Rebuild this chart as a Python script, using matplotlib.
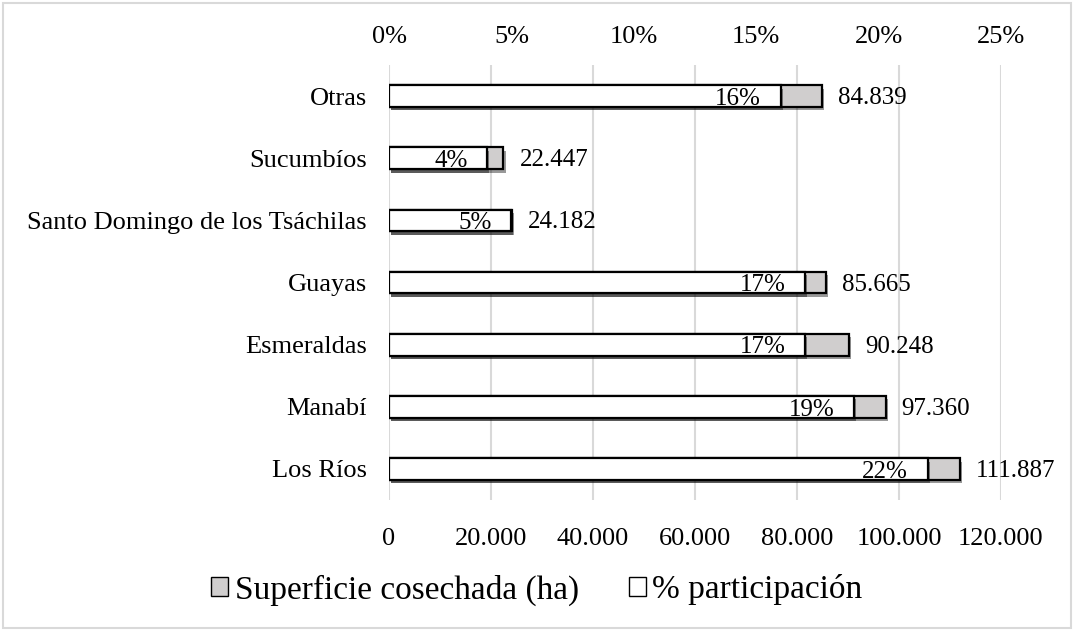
import matplotlib.pyplot as plt
import matplotlib.patheffects as pe
from matplotlib.patches import Rectangle, Patch
from matplotlib.ticker import FuncFormatter

# --- Data (bottom to top, as in the source chart) ---
provincias = ["Los Ríos", "Manabí", "Esmeraldas", "Guayas",
              "Santo Domingo de los Tsáchilas", "Sucumbíos", "Otras"]
superficie_ha = [111887, 97360, 90248, 85665, 24182, 22447, 84839]
participacion = [0.22, 0.19, 0.17, 0.17, 0.05, 0.04, 0.16]
ha_ticks = [0, 20000, 40000, 60000, 80000, 100000, 120000]
pct_ticks = [0, 0.05, 0.10, 0.15, 0.20, 0.25]

plt.rcParams["font.family"] = ["Liberation Serif", "DejaVu Serif"]

fig = plt.figure(figsize=(10.74, 6.30), dpi=100)
ax = fig.add_axes([0.3622, 0.2063, 0.932 - 0.3622, 0.8968 - 0.2063])
ax2 = ax.twiny()

shadow = [pe.SimplePatchShadow(offset=(1.5, -2.5), shadow_rgbFace="black", alpha=0.4),
          pe.Normal()]

y = list(range(len(provincias)))
bar_h = 0.35

# --- Superficie cosechada (bottom axis) ---
bars = ax.barh(y, superficie_ha, height=bar_h, color="#d0cece",
               edgecolor="black", linewidth=1.6, zorder=3)
for b in bars:
    b.set_path_effects(shadow)
for yi, v in zip(y, superficie_ha):
    ax.annotate(f"{v:,}".replace(",", "."), (v, yi), xytext=(11.5, -1.5),
                textcoords="offset points", ha="left", va="center",
                fontsize=18)

# --- % participacion (top axis) ---
bars2 = ax2.barh(y, participacion, height=bar_h, color="white",
                 edgecolor="black", linewidth=1.6, zorder=3)
for b in bars2:
    b.set_path_effects(shadow)
for yi, p in zip(y, participacion):
    ax2.annotate(f"{p * 100:.0f}%", (p, yi), xytext=(-14, -2),
                 textcoords="offset points", ha="right", va="center",
                 fontsize=18)

# --- Axes styling ---
ax.set_xlim(0, 120000)
ax2.set_xlim(0, 0.25)
ax.set_ylim(-0.5, len(provincias) - 0.5)
ax.set_yticks(y)
ax.set_yticklabels(provincias)
ax.set_xticks(ha_ticks)
ax.xaxis.set_major_formatter(FuncFormatter(lambda v, _: f"{int(v):,}".replace(",", ".")))
ax2.set_xticks(pct_ticks)
ax2.xaxis.set_major_formatter(FuncFormatter(lambda v, _: f"{v * 100:.0f}%"))

ax.tick_params(axis="x", length=0, pad=20, labelsize=19)
ax.tick_params(axis="y", length=0, pad=16, labelsize=19)
ax2.tick_params(axis="x", length=0, pad=12, labelsize=19)

ax.grid(axis="x", color="#d9d9d9", linewidth=1.5, zorder=0)
ax.set_axisbelow(True)
for a in (ax, ax2):
    for s in a.spines.values():
        s.set_visible(False)

# --- Legend ---
handles = [Patch(facecolor="#d0cece", edgecolor="black", linewidth=1.0),
           Patch(facecolor="white", edgecolor="black", linewidth=1.0)]
fig.legend(handles, ["Superficie cosechada (ha)", "% participación"],
           loc="center", bbox_to_anchor=(0.5, 0.0635), ncol=2, frameon=False,
           fontsize=24, handlelength=0.5, handleheight=0.5,
           handletextpad=0.2, columnspacing=1.5)

# --- Chart frame ---
fig.patches.append(Rectangle((3 / 1074, 2 / 630), 1068 / 1074, 625 / 630,
                             transform=fig.transFigure, fill=False,
                             edgecolor="#d9d9d9", linewidth=1.5))

fig.savefig("out.png", dpi=100)
